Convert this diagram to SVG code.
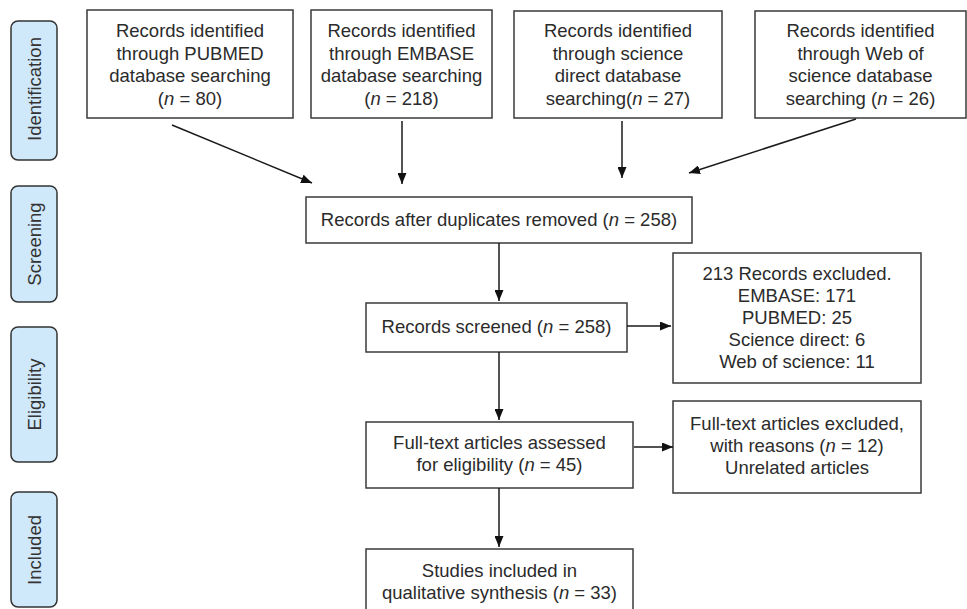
<svg xmlns="http://www.w3.org/2000/svg" width="967" height="609" viewBox="0 0 967 609">
<style>
.box{fill:#ffffff;stroke:#3a3a3a;stroke-width:1.5}
.pill{fill:#cfe8fa;stroke:#333333;stroke-width:1.5}
.t{font-family:"Liberation Sans",Arial,sans-serif;font-size:18.5px;fill:#2b2b2b;text-anchor:middle}
.s{font-family:"Liberation Sans",Arial,sans-serif;font-size:18.5px;fill:#333333;text-anchor:middle;dominant-baseline:central}
.i{font-style:italic}
.c{stroke:#1a1a1a;stroke-width:1.5;fill:none;marker-end:url(#ah)}
</style>
<defs>
<marker id="ah" viewBox="0 0 11 9" refX="11" refY="4.5" markerWidth="11" markerHeight="9" markerUnits="userSpaceOnUse" orient="auto">
<path d="M0,0 L11,4.5 L0,9 Z" fill="#111111"/>
</marker>
</defs>
<rect width="967" height="609" fill="#ffffff"/>
<g id="stage-identification"><rect class="pill" x="11" y="21" width="46" height="139" rx="7"/><text class="s" transform="translate(34.5,89) rotate(-90)">Identification</text></g>
<g id="stage-screening"><rect class="pill" x="11" y="186" width="46" height="116" rx="7"/><text class="s" transform="translate(34.5,244) rotate(-90)">Screening</text></g>
<g id="stage-eligibility"><rect class="pill" x="11" y="327" width="46" height="135" rx="7"/><text class="s" transform="translate(34.5,394.5) rotate(-90)">Eligibility</text></g>
<g id="stage-included"><rect class="pill" x="11" y="492" width="46" height="115" rx="7"/><text class="s" transform="translate(34.5,550) rotate(-90)">Included</text></g>

<g id="pubmed"><rect class="box" x="87" y="10" width="206" height="108"/>
<text class="t" x="190" y="37">Records identified</text>
<text class="t" x="190" y="59.5">through PUBMED</text>
<text class="t" x="190" y="82">database searching</text>
<text class="t" x="190" y="104.5">(<tspan class="i">n</tspan> = 80)</text></g>

<g id="embase"><rect class="box" x="311" y="10" width="181" height="108"/>
<text class="t" x="401.5" y="37">Records identified</text>
<text class="t" x="401.5" y="59.5">through EMBASE</text>
<text class="t" x="401.5" y="82">database searching</text>
<text class="t" x="401.5" y="104.5">(<tspan class="i">n</tspan> = 218)</text></g>

<g id="sciencedirect"><rect class="box" x="514" y="11" width="208" height="107"/>
<text class="t" x="618" y="37">Records identified</text>
<text class="t" x="618" y="59.5">through science</text>
<text class="t" x="618" y="82">direct database</text>
<text class="t" x="618" y="104.5">searching(<tspan class="i">n</tspan> = 27)</text></g>

<g id="webofscience"><rect class="box" x="755" y="11" width="211" height="107"/>
<text class="t" x="860.5" y="37">Records identified</text>
<text class="t" x="860.5" y="59.5">through Web of</text>
<text class="t" x="860.5" y="82">science database</text>
<text class="t" x="860.5" y="104.5">searching (<tspan class="i">n</tspan> = 26)</text></g>

<g id="duplicates"><rect class="box" x="306" y="197" width="386" height="46"/>
<text class="t" x="499" y="226">Records after duplicates removed (<tspan class="i">n</tspan> = 258)</text></g>

<g id="screened"><rect class="box" x="366" y="303" width="261" height="49"/>
<text class="t" x="496.5" y="333">Records screened (<tspan class="i">n</tspan> = 258)</text></g>

<g id="excluded"><rect class="box" x="673" y="253" width="248" height="130"/>
<text class="t" x="797" y="280">213 Records excluded.</text>
<text class="t" x="797" y="302">EMBASE: 171</text>
<text class="t" x="797" y="324">PUBMED: 25</text>
<text class="t" x="797" y="346">Science direct: 6</text>
<text class="t" x="797" y="368">Web of science: 11</text></g>

<g id="fulltext"><rect class="box" x="366" y="422" width="267" height="66"/>
<text class="t" x="499.5" y="449">Full-text articles assessed</text>
<text class="t" x="499.5" y="471">for eligibility (<tspan class="i">n</tspan> = 45)</text></g>

<g id="fulltext-excluded"><rect class="box" x="673" y="401" width="248" height="92"/>
<text class="t" x="797" y="430">Full-text articles excluded,</text>
<text class="t" x="797" y="452">with reasons (<tspan class="i">n</tspan> = 12)</text>
<text class="t" x="797" y="474">Unrelated articles</text></g>

<g id="included"><rect class="box" x="366" y="549" width="267" height="70"/>
<text class="t" x="499.5" y="577">Studies included in</text>
<text class="t" x="499.5" y="599">qualitative synthesis (<tspan class="i">n</tspan> = 33)</text></g>

<g id="connectors">
<line class="c" x1="172" y1="125" x2="312" y2="183"/>
<line class="c" x1="402" y1="121" x2="402" y2="184"/>
<line class="c" x1="622" y1="121" x2="622" y2="178"/>
<line class="c" x1="856" y1="119" x2="689" y2="173"/>
<line class="c" x1="499" y1="243" x2="499" y2="301"/>
<line class="c" x1="627" y1="326" x2="671" y2="326"/>
<line class="c" x1="499" y1="352" x2="499" y2="420"/>
<line class="c" x1="634" y1="447" x2="673" y2="447"/>
<line class="c" x1="499" y1="488" x2="499" y2="547"/>
</g>
</svg>
